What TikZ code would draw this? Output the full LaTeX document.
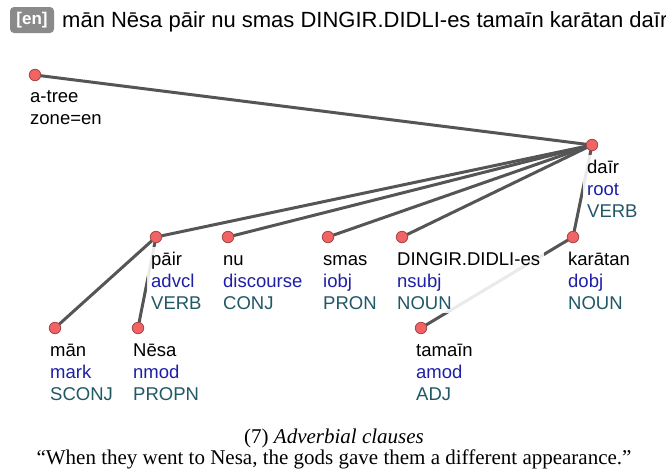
\documentclass[tikz,border=0pt]{standalone}
\usepackage{fontspec}
\setmainfont{Liberation Serif}
\newfontfamily\uisans{Liberation Sans}
\usetikzlibrary{calc,fit}
\pgfdeclarelayer{edges}
\pgfdeclarelayer{boxes}
\pgfsetlayers{edges,boxes,main}

\definecolor{edgegray}{HTML}{555555}
\definecolor{dotred}{HTML}{F26464}
\definecolor{dotrim}{HTML}{A04848}
\definecolor{relblue}{HTML}{1E1EA8}
\definecolor{posteal}{HTML}{205866}
\definecolor{tagbg}{HTML}{8A8A8A}

\tikzset{
  dot/.style={circle, draw=dotrim, line width=0.8pt, fill=dotred,
    minimum size=11.5pt, inner sep=0pt},
  lbltxt/.style={font=\uisans\fontsize{18.5}{22}\selectfont,
    inner sep=1.5pt, anchor=base west},
  wordtxt/.style={lbltxt, text=black},
  reltxt/.style={lbltxt, text=relblue},
  postxt/.style={lbltxt, text=posteal},
  lblbox/.style={fill=white, fill opacity=0.88, draw=none, inner sep=2.5pt},
  edge/.style={draw=edgegray, line width=3pt},
  langtag/.style={fill=tagbg, rounded corners=4pt, text=white,
    font=\uisans\bfseries\fontsize{17}{20}\selectfont,
    minimum width=44pt, minimum height=26pt, inner sep=0pt},
}

% one token: dot, word form, relation and part of speech below it
\newcommand\tokennode[6]{%
  \node[dot] (#1) at (#2,#3) {};
  \node[wordtxt] (#1-w) at ($(#1)+(-6.5,28)$) {#4};
  \node[reltxt] (#1-r) at ($(#1)+(-6.5,50)$) {#5};
  \node[postxt] (#1-p) at ($(#1)+(-6.5,72)$) {#6};
  \begin{pgfonlayer}{boxes}
    \node[lblbox, fit=(#1-w)(#1-r)(#1-p)] (#1-box) {};
  \end{pgfonlayer}%
}

\begin{document}
\begin{tikzpicture}[x=1pt,y=-1pt]
\useasboundingbox (0,0) rectangle (666,472);

% header line
\node[langtag] (lang) at (32,20) {[en]};
\node[font=\uisans\fontsize{22}{26}\selectfont, anchor=base west, inner sep=0pt]
  (sent) at (62,27.5) {mān Nēsa pāir nu smas DINGIR.DIDLI-es tamaīn karātan daīr};

% tree root marker
\node[dot] (atree) at (35,75) {};
\node[wordtxt] (atree-w) at ($(atree)+(-6.5,27)$) {a-tree};
\node[wordtxt] (atree-z) at ($(atree)+(-6.5,49)$) {zone=en};
\begin{pgfonlayer}{boxes}
  \node[lblbox, fit=(atree-w)(atree-z)] (atree-box) {};
\end{pgfonlayer}

% tokens
\tokennode{dair}{592}{145}{daīr}{root}{VERB}
\tokennode{pair}{156}{237}{pāir}{advcl}{VERB}
\tokennode{nu}{228}{237}{nu}{discourse}{CONJ}
\tokennode{smas}{328}{237}{smas}{iobj}{PRON}
\tokennode{dingir}{402}{237}{DINGIR.DIDLI-es}{nsubj}{NOUN}
\tokennode{karatan}{573}{237}{karātan}{dobj}{NOUN}
\tokennode{man}{55}{328}{mān}{mark}{SCONJ}
\tokennode{nesa}{138}{328}{Nēsa}{nmod}{PROPN}
\tokennode{tamain}{421}{328}{tamaīn}{amod}{ADJ}

% dependency edges
\begin{pgfonlayer}{edges}
  \draw[edge] (dair.center) -- (atree.center);
  \draw[edge] (dair.center) -- (pair.center);
  \draw[edge] (dair.center) -- (nu.center);
  \draw[edge] (dair.center) -- (smas.center);
  \draw[edge] (dair.center) -- (dingir.center);
  \draw[edge] (dair.center) -- (karatan.center);
  \draw[edge] (pair.center) -- (man.center);
  \draw[edge] (pair.center) -- (nesa.center);
  \draw[edge] (karatan.center) -- (tamain.center);
\end{pgfonlayer}

% caption
\node[font=\fontsize{21}{24}\selectfont, anchor=base, inner sep=0pt]
  (cap) at (334,443) {(7) \textit{Adverbial clauses}};
\node[font=\fontsize{21}{24}\selectfont, anchor=base, inner sep=0pt]
  (gloss) at (334,464) {“When they went to Nesa, the gods gave them a different appearance.”};
\end{tikzpicture}
\end{document}
